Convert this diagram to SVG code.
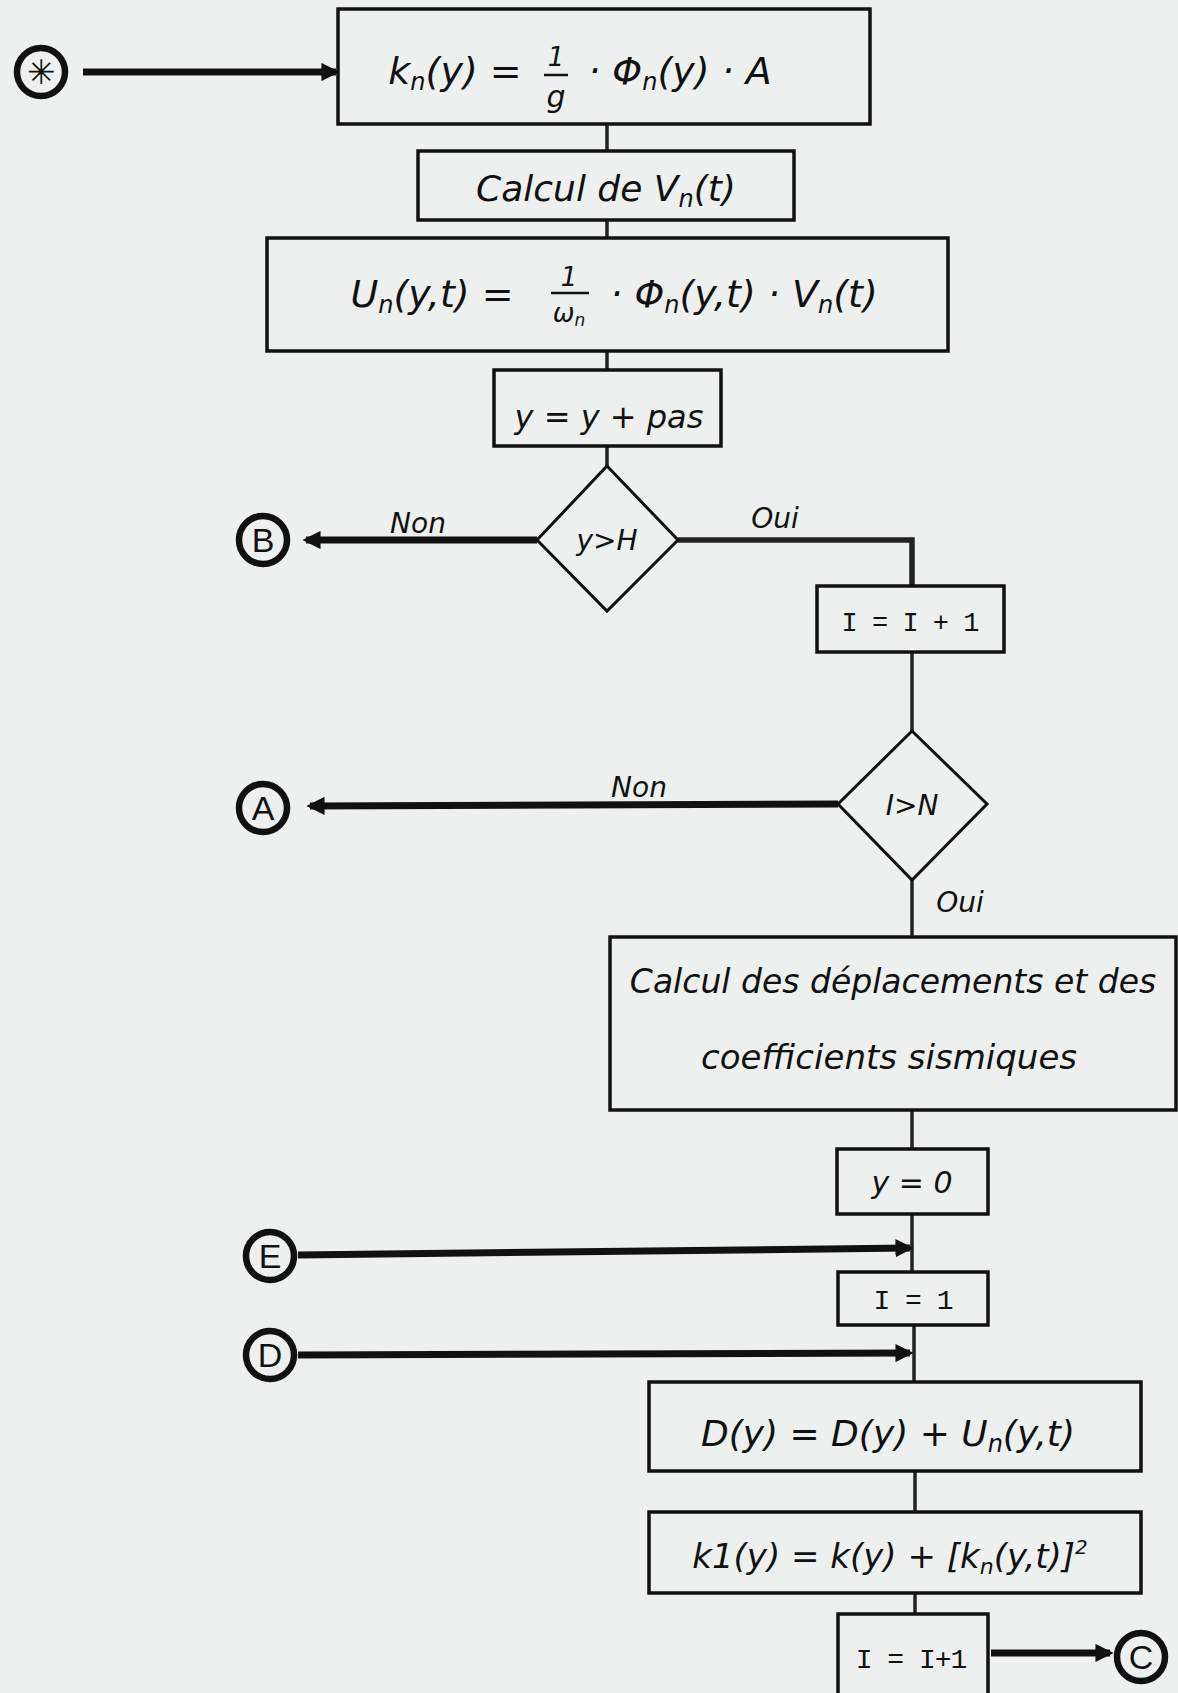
<svg xmlns="http://www.w3.org/2000/svg" width="1178" height="1693" viewBox="0 0 1178 1693">
<style>
.bg{fill:#eef0ef}
.box{fill:none;stroke:#111;stroke-width:3.5}
.dia{fill:none;stroke:#111;stroke-width:3}
.ln{fill:none;stroke:#222;stroke-width:3.5}
.arr{fill:none;stroke:#111;stroke-width:7;marker-end:url(#ah)}
.ring{fill:#eef0ef;stroke:#111;stroke-width:6.5}
.t{font-family:"DejaVu Sans",sans-serif;font-style:italic;fill:#111;text-anchor:middle}
.m{font-family:"Liberation Mono",monospace;fill:#111;text-anchor:middle;letter-spacing:-1px}
.c{font-family:"Liberation Sans",sans-serif;fill:#111;text-anchor:middle;font-size:34px}
.bar{stroke:#111;stroke-width:2.5}
</style>
<defs>
<marker id="ah" viewBox="0 0 10 10" refX="8" refY="5" markerWidth="2.6" markerHeight="2.6" orient="auto">
<path d="M0,0 L10,5 L0,10 z" fill="#111"/>
</marker>
</defs>
<rect class="bg" x="0" y="0" width="1178" height="1693"/>

<g id="connectors">
<line class="ln" x1="607" y1="124" x2="607" y2="151"/>
<line class="ln" x1="607" y1="220" x2="607" y2="238"/>
<line class="ln" x1="607" y1="351" x2="607" y2="370"/>
<line class="ln" x1="607" y1="446" x2="607" y2="466"/>
<polyline class="ln" points="678,540 912,540 912,586" style="stroke-width:5.5"/>
<line class="ln" x1="912" y1="652" x2="912" y2="731"/>
<line class="ln" x1="912" y1="880" x2="912" y2="937"/>
<line class="ln" x1="912" y1="1110" x2="912" y2="1149"/>
<line class="ln" x1="912" y1="1214" x2="912" y2="1272"/>
<line class="ln" x1="914" y1="1325" x2="914" y2="1382"/>
<line class="ln" x1="915" y1="1471" x2="915" y2="1512"/>
<line class="ln" x1="915" y1="1593" x2="915" y2="1614"/>
<line class="arr" x1="83" y1="72" x2="336" y2="72"/>
<line class="arr" x1="537" y1="540" x2="306" y2="540"/>
<line class="arr" x1="838" y1="804" x2="310" y2="806"/>
<line class="arr" x1="298" y1="1255" x2="910" y2="1248"/>
<line class="arr" x1="298" y1="1355" x2="910" y2="1353"/>
<line class="arr" x1="991" y1="1653" x2="1110" y2="1653"/>
<text class="t" x="418" y="533" font-size="28">Non</text>
<text class="t" x="775" y="528" font-size="28">Oui</text>
<text class="t" x="639" y="797" font-size="28">Non</text>
<text class="t" x="960" y="912" font-size="28">Oui</text>
</g>

<g id="start">
<circle class="ring" cx="41" cy="72" r="24"/>
<text class="c" x="41" y="84">✳</text>
</g>

<g id="n1">
<rect class="box" x="338" y="9" width="532" height="115"/>
<text class="t" x="455" y="84" font-size="38">k<tspan font-size="24" dy="6">n</tspan><tspan dy="-6">(y) =</tspan></text>
<text class="t" x="556" y="66" font-size="26">1</text>
<line class="bar" x1="544" y1="75" x2="568" y2="75"/>
<text class="t" x="556" y="107" font-size="30">g</text>
<text class="t" x="680" y="84" font-size="38">· Φ<tspan font-size="24" dy="6">n</tspan><tspan dy="-6">(y) · A</tspan></text>
</g>

<g id="n2">
<rect class="box" x="418" y="151" width="376" height="69"/>
<text class="t" x="606" y="201" font-size="36">Calcul de V<tspan font-size="24" dy="6">n</tspan><tspan dy="-6">(t)</tspan></text>
</g>

<g id="n3">
<rect class="box" x="267" y="238" width="681" height="113"/>
<text class="t" x="432" y="307" font-size="38">U<tspan font-size="24" dy="6">n</tspan><tspan dy="-6">(y,t) =</tspan></text>
<text class="t" x="569" y="286" font-size="26">1</text>
<line class="bar" x1="551" y1="293" x2="589" y2="293"/>
<text class="t" x="569" y="322" font-size="26">ω<tspan font-size="17" dy="4">n</tspan></text>
<text class="t" x="744" y="307" font-size="38">· Φ<tspan font-size="24" dy="6">n</tspan><tspan dy="-6">(y,t) · V</tspan><tspan font-size="24" dy="6">n</tspan><tspan dy="-6">(t)</tspan></text>
</g>

<g id="n4">
<rect class="box" x="494" y="370" width="227" height="76"/>
<text class="t" x="609" y="428" font-size="32">y = y + pas</text>
</g>

<g id="d1">
<polygon class="dia" points="607,466 678,540 607,611 537,540"/>
<text class="t" x="607" y="550" font-size="28">y&gt;H</text>
</g>

<g id="cB">
<circle class="ring" cx="263" cy="540" r="24"/>
<text class="c" x="263" y="552">B</text>
</g>

<g id="n5">
<rect class="box" x="817" y="586" width="187" height="66"/>
<text class="m" x="910" y="631" font-size="27">I = I + 1</text>
</g>

<g id="d2">
<polygon class="dia" points="912,731 987,804 912,880 838,804"/>
<text class="t" x="912" y="815" font-size="28">I&gt;N</text>
</g>

<g id="cA">
<circle class="ring" cx="263" cy="808" r="24"/>
<text class="c" x="263" y="820">A</text>
</g>

<g id="n6">
<rect class="box" x="610" y="937" width="566" height="173"/>
<text class="t" x="893" y="993" font-size="33">Calcul des déplacements et des</text>
<text class="t" x="889" y="1069" font-size="34">coefficients sismiques</text>
</g>

<g id="n7">
<rect class="box" x="837" y="1149" width="151" height="65"/>
<text class="t" x="912" y="1193" font-size="30">y = 0</text>
</g>

<g id="cE">
<circle class="ring" cx="270" cy="1256" r="24"/>
<text class="c" x="270" y="1268">E</text>
</g>

<g id="n8">
<rect class="box" x="838" y="1272" width="150" height="53"/>
<text class="m" x="913" y="1309" font-size="28">I = 1</text>
</g>

<g id="cD">
<circle class="ring" cx="270" cy="1355" r="24"/>
<text class="c" x="270" y="1367">D</text>
</g>

<g id="n9">
<rect class="box" x="649" y="1382" width="492" height="89"/>
<text class="t" x="888" y="1446" font-size="36">D(y) = D(y) + U<tspan font-size="24" dy="6">n</tspan><tspan dy="-6">(y,t)</tspan></text>
</g>

<g id="n10">
<rect class="box" x="649" y="1512" width="492" height="81"/>
<text class="t" x="890" y="1568" font-size="34">k1(y) = k(y) + [k<tspan font-size="22" dy="6">n</tspan><tspan dy="-6">(y,t)]</tspan><tspan font-size="20" dy="-14">2</tspan></text>
</g>

<g id="n11">
<rect class="box" x="838" y="1614" width="150" height="85"/>
<text class="m" x="911" y="1668" font-size="28">I = I+1</text>
</g>

<g id="cC">
<circle class="ring" cx="1141" cy="1657" r="24"/>
<text class="c" x="1141" y="1669">C</text>
</g>
</svg>
